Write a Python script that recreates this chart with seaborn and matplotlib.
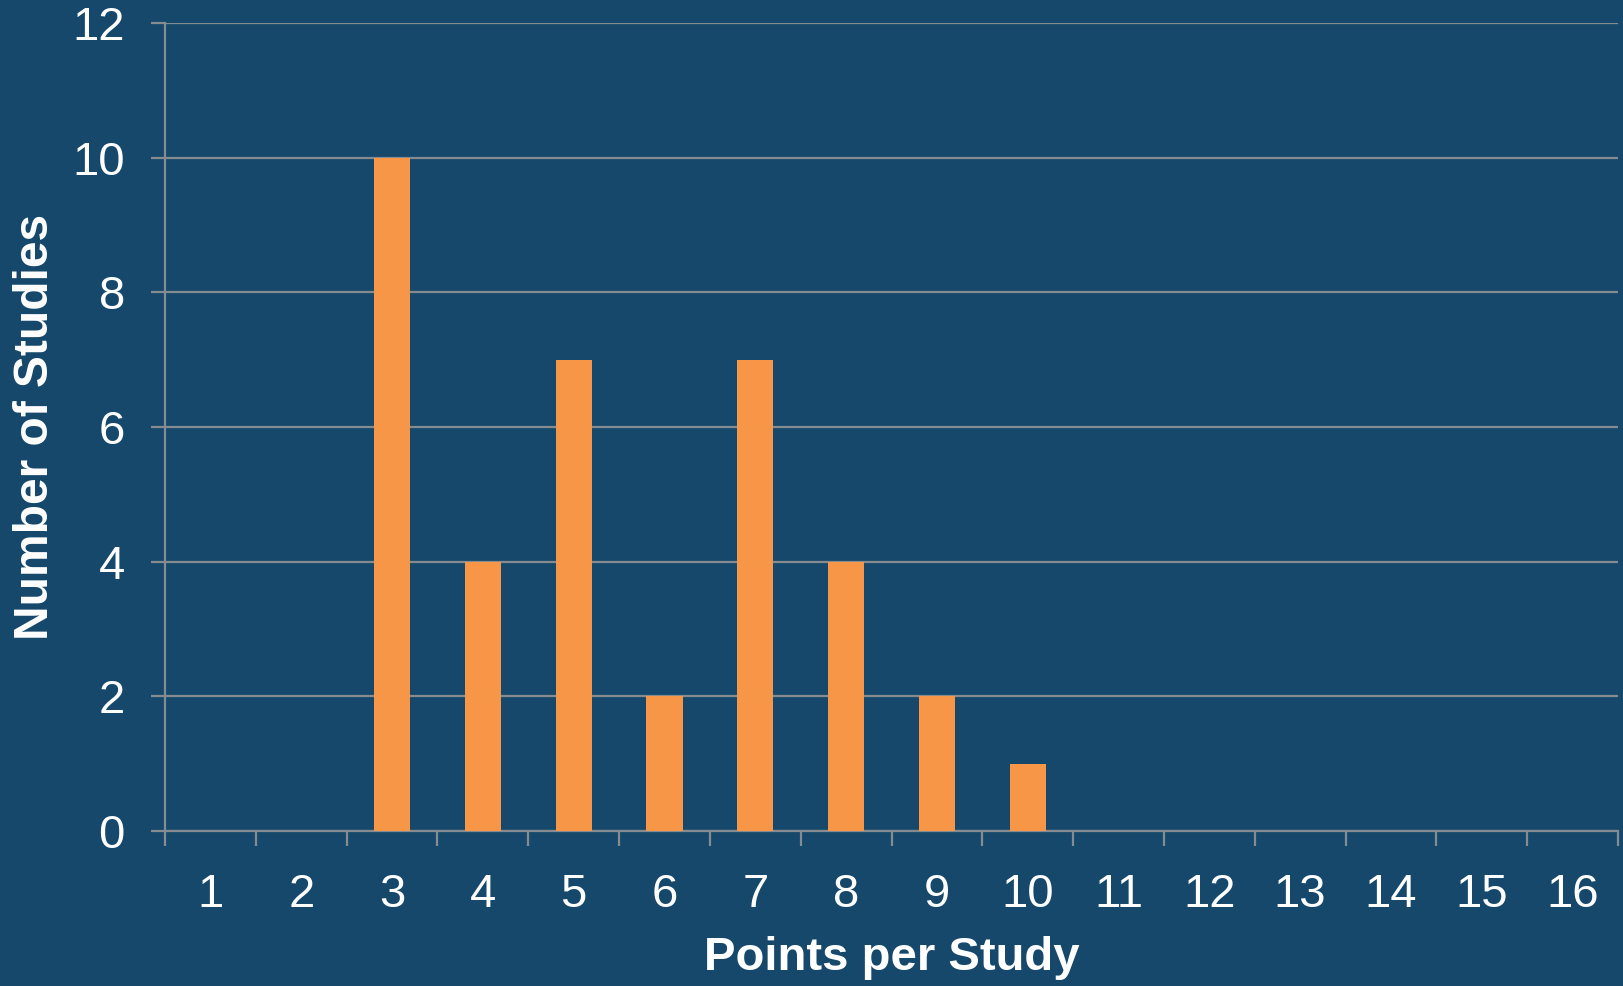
import matplotlib
matplotlib.use("Agg")
import matplotlib.pyplot as plt
import seaborn as sns
import pandas as pd
from matplotlib.ticker import FixedLocator

points = list(range(1, 17))
studies = [0, 0, 10, 4, 7, 2, 7, 4, 2, 1, 0, 0, 0, 0, 0, 0]
y_ticks = [0, 2, 4, 6, 8, 10, 12]

BG = "#15486A"
BAR = "#F79646"
GRID = "#858B90"

sns.set_theme(style="white")
plt.rcParams['font.family'] = ['Liberation Sans', 'DejaVu Sans']

df = pd.DataFrame({"Points": [str(p) for p in points], "Studies": studies})

fig = plt.figure(figsize=(16.23, 9.86), dpi=100, facecolor=BG)
ax = fig.add_axes([0.1017, 0.1572, 0.8952, 0.8195])
ax.set_facecolor(BG)

sns.barplot(data=df, x="Points", y="Studies", order=[str(p) for p in points],
            color=BAR, saturation=1, width=0.4, linewidth=0, ax=ax, zorder=3)

ax.set_xlim(-0.5, len(points) - 0.5)
ax.set_ylim(0, 12)
ax.set_yticks(y_ticks)
ax.yaxis.grid(True, color=GRID, linewidth=1.6, zorder=0)
ax.xaxis.grid(False)

for s in ["top", "right"]:
    ax.spines[s].set_visible(False)
for s in ["left", "bottom"]:
    ax.spines[s].set_color(GRID)
    ax.spines[s].set_linewidth(1.6)

ax.tick_params(axis="y", which="major", direction="out", length=10, width=1.6,
               color=GRID, labelcolor="white", labelsize=34, pad=19, left=True)
ax.tick_params(axis="x", which="major", length=0, labelcolor="white",
               labelsize=34, pad=30, bottom=True)
ax.xaxis.set_minor_locator(FixedLocator([i - 0.5 for i in range(len(points) + 1)]))
ax.tick_params(axis="x", which="minor", direction="out", length=11, width=1.6,
               color=GRID, bottom=True)

ax.set_xlabel("Points per Study", color="white", fontsize=34, fontweight="bold", labelpad=14)
ax.set_ylabel("Number of Studies", color="white", fontsize=34.5, fontweight="bold", labelpad=10)

fig.savefig("out.png", dpi=100, facecolor=BG)
